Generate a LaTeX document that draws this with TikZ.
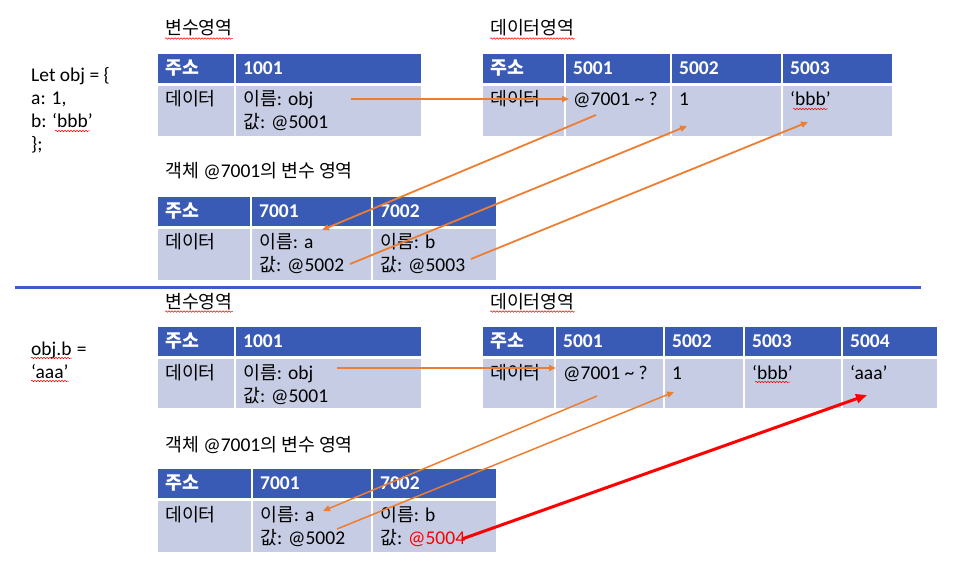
\documentclass[tikz,border=0pt]{standalone}
\usepackage{fontspec}
\setmainfont{Carlito}
\newfontfamily\kr{Noto Sans CJK KR}[Scale=0.94]
\usetikzlibrary{arrows.meta,decorations.pathmorphing,calc}
\definecolor{hdrblue}{HTML}{3A5BB5}
\definecolor{rowblue}{HTML}{C6CCE3}
\definecolor{sepblue}{HTML}{3A5EC4}
\definecolor{arrorange}{HTML}{ED7D31}
\definecolor{arrred}{HTML}{FF0000}
\tikzset{
  hcell/.style={rectangle, anchor=north west, inner sep=0pt, outer sep=0pt, fill=hdrblue, draw=white, line width=2pt},
  dcell/.style={rectangle, anchor=north west, inner sep=0pt, outer sep=0pt, fill=rowblue, draw=white, line width=2pt},
  htext/.style={anchor=base west, inner sep=0pt, text=white, font=\fontsize{19.5}{22}\selectfont\bfseries},
  dtext/.style={anchor=base west, inner sep=0pt, text=black, font=\fontsize{19.5}{22}\selectfont},
  lbl/.style={anchor=base west, inner sep=0pt, text=black, font=\fontsize{19.5}{22}\selectfont},
  ptr/.style={draw=arrorange, line width=1.8pt, -{Triangle[length=7pt,width=6pt]}},
  redptr/.style={draw=arrred, line width=3pt, -{Triangle[length=11pt,width=9pt]}},
  squig/.style={draw=red, line width=0.5pt, decorate, decoration={snake, amplitude=0.8pt, segment length=3pt}},
  sepline/.style={draw=sepblue, line width=3pt},
}
\begin{document}
\begin{tikzpicture}[x=1pt,y=-1pt]
\useasboundingbox (0,0) rectangle (979,569);

% ================= TOP =================
\node[lbl] (vh1) at (165,35) {\kr 변수영역};
\node[lbl] (dh1) at (490,35) {\kr 데이터영역};
\node[lbl] (oh1) at (165,178) {{\kr 객체} @7001{\kr 의 변수 영역}};

\node[dtext] (c1) at (31,82) {Let obj = \{};
\node[dtext] (c2) at (31,105) {a: 1,};
\node[dtext] (c3a) at (31,128) {b:};
\node[dtext] (c3b) at (52,128) {‘bbb’};
\node[dtext] (c4) at (31,151) {\};};

% T1
\node[hcell, minimum width=78pt, minimum height=31pt] (t1h0) at (157,53) {};
\node[hcell, minimum width=187pt, minimum height=31pt] (t1h1) at (235,53) {};
\node[dcell, minimum width=78pt, minimum height=52pt] (t1d0) at (157,85) {};
\node[dcell, minimum width=187pt, minimum height=52pt] (t1d1) at (235,85) {};
\node[htext] (t1h0t) at ([xshift=8pt,yshift=-21.5pt]t1h0.north west) {\kr 주소};
\node[htext] (t1h1t) at ([xshift=8pt,yshift=-21.5pt]t1h1.north west) {1001};
\node[dtext] (t1d0t) at ([xshift=8pt,yshift=-21pt]t1d0.north west) {\kr 데이터};
\node[dtext] (t1d1a) at ([xshift=8pt,yshift=-21pt]t1d1.north west) {{\kr 이름}: obj};
\node[dtext] (t1d1b) at ([xshift=8pt,yshift=-44pt]t1d1.north west) {{\kr 값}: @5001};

% T2
\node[hcell, minimum width=83pt, minimum height=31pt] (t2h0) at (482,53) {};
\node[hcell, minimum width=106pt, minimum height=31pt] (t2h1) at (565,53) {};
\node[hcell, minimum width=111pt, minimum height=31pt] (t2h2) at (671,53) {};
\node[hcell, minimum width=111pt, minimum height=31pt] (t2h3) at (782,53) {};
\node[dcell, minimum width=83pt, minimum height=52pt] (t2d0) at (482,85) {};
\node[dcell, minimum width=106pt, minimum height=52pt] (t2d1) at (565,85) {};
\node[dcell, minimum width=111pt, minimum height=52pt] (t2d2) at (671,85) {};
\node[dcell, minimum width=111pt, minimum height=52pt] (t2d3) at (782,85) {};
\node[htext] (t2h0t) at ([xshift=8pt,yshift=-21.5pt]t2h0.north west) {\kr 주소};
\node[htext] (t2h1t) at ([xshift=8pt,yshift=-21.5pt]t2h1.north west) {5001};
\node[htext] (t2h2t) at ([xshift=8pt,yshift=-21.5pt]t2h2.north west) {5002};
\node[htext] (t2h3t) at ([xshift=8pt,yshift=-21.5pt]t2h3.north west) {5003};
\node[dtext] (t2d0t) at ([xshift=8pt,yshift=-21pt]t2d0.north west) {\kr 데이터};
\node[dtext] (t2d1t) at ([xshift=8pt,yshift=-21pt]t2d1.north west) {@7001 \textasciitilde{} ?};
\node[dtext] (t2d2t) at ([xshift=8pt,yshift=-21pt]t2d2.north west) {1};
\node[dtext] (t2d3t) at ([xshift=8pt,yshift=-21pt]t2d3.north west) {‘bbb’};

% T3
\node[hcell, minimum width=94pt, minimum height=31pt] (t3h0) at (157,196) {};
\node[hcell, minimum width=121pt, minimum height=31pt] (t3h1) at (251,196) {};
\node[hcell, minimum width=125pt, minimum height=31pt] (t3h2) at (372,196) {};
\node[dcell, minimum width=94pt, minimum height=53pt] (t3d0) at (157,228) {};
\node[dcell, minimum width=121pt, minimum height=53pt] (t3d1) at (251,228) {};
\node[dcell, minimum width=125pt, minimum height=53pt] (t3d2) at (372,228) {};
\node[htext] (t3h0t) at ([xshift=8pt,yshift=-21.5pt]t3h0.north west) {\kr 주소};
\node[htext] (t3h1t) at ([xshift=8pt,yshift=-21.5pt]t3h1.north west) {7001};
\node[htext] (t3h2t) at ([xshift=8pt,yshift=-21.5pt]t3h2.north west) {7002};
\node[dtext] (t3d0t) at ([xshift=8pt,yshift=-21pt]t3d0.north west) {\kr 데이터};
\node[dtext] (t3d1a) at ([xshift=8pt,yshift=-21pt]t3d1.north west) {{\kr 이름}: a};
\node[dtext] (t3d1b) at ([xshift=8pt,yshift=-44pt]t3d1.north west) {{\kr 값}: @5002};
\node[dtext] (t3d2a) at ([xshift=8pt,yshift=-21pt]t3d2.north west) {{\kr 이름}: b};
\node[dtext] (t3d2b) at ([xshift=8pt,yshift=-44pt]t3d2.north west) {{\kr 값}: @5003};

% separator
\coordinate (sepL) at (15,287.5);
\coordinate (sepR) at (921,287.5);
\draw[sepline] (sepL) -- (sepR);

% ================= BOTTOM =================
\node[lbl] (vh2) at (165,308) {\kr 변수영역};
\node[lbl] (dh2) at (490,308) {\kr 데이터영역};
\node[lbl] (oh2) at (165,451) {{\kr 객체} @7001{\kr 의 변수 영역}};

\node[dtext] (e1a) at (31,355) {obj.b};
\node[dtext] (e1b) at ([xshift=5pt]e1a.base east) {=};
\node[dtext] (e2) at (31,378) {‘aaa’};

% T4
\node[hcell, minimum width=78pt, minimum height=31pt] (t4h0) at (157,326) {};
\node[hcell, minimum width=187pt, minimum height=31pt] (t4h1) at (235,326) {};
\node[dcell, minimum width=78pt, minimum height=51pt] (t4d0) at (157,358) {};
\node[dcell, minimum width=187pt, minimum height=51pt] (t4d1) at (235,358) {};
\node[htext] (t4h0t) at ([xshift=8pt,yshift=-21pt]t4h0.north west) {\kr 주소};
\node[htext] (t4h1t) at ([xshift=8pt,yshift=-21pt]t4h1.north west) {1001};
\node[dtext] (t4d0t) at ([xshift=8pt,yshift=-21pt]t4d0.north west) {\kr 데이터};
\node[dtext] (t4d1a) at ([xshift=8pt,yshift=-21pt]t4d1.north west) {{\kr 이름}: obj};
\node[dtext] (t4d1b) at ([xshift=8pt,yshift=-44pt]t4d1.north west) {{\kr 값}: @5001};

% T5
\node[hcell, minimum width=73pt, minimum height=31pt] (t5h0) at (482,326) {};
\node[hcell, minimum width=109pt, minimum height=31pt] (t5h1) at (555,326) {};
\node[hcell, minimum width=80pt, minimum height=31pt] (t5h2) at (664,326) {};
\node[hcell, minimum width=98pt, minimum height=31pt] (t5h3) at (744,326) {};
\node[hcell, minimum width=96pt, minimum height=31pt] (t5h4) at (842,326) {};
\node[dcell, minimum width=73pt, minimum height=51pt] (t5d0) at (482,358) {};
\node[dcell, minimum width=109pt, minimum height=51pt] (t5d1) at (555,358) {};
\node[dcell, minimum width=80pt, minimum height=51pt] (t5d2) at (664,358) {};
\node[dcell, minimum width=98pt, minimum height=51pt] (t5d3) at (744,358) {};
\node[dcell, minimum width=96pt, minimum height=51pt] (t5d4) at (842,358) {};
\node[htext] (t5h0t) at ([xshift=8pt,yshift=-21pt]t5h0.north west) {\kr 주소};
\node[htext] (t5h1t) at ([xshift=8pt,yshift=-21pt]t5h1.north west) {5001};
\node[htext] (t5h2t) at ([xshift=8pt,yshift=-21pt]t5h2.north west) {5002};
\node[htext] (t5h3t) at ([xshift=8pt,yshift=-21pt]t5h3.north west) {5003};
\node[htext] (t5h4t) at ([xshift=8pt,yshift=-21pt]t5h4.north west) {5004};
\node[dtext] (t5d0t) at ([xshift=8pt,yshift=-21pt]t5d0.north west) {\kr 데이터};
\node[dtext] (t5d1t) at ([xshift=8pt,yshift=-21pt]t5d1.north west) {@7001 \textasciitilde{} ?};
\node[dtext] (t5d2t) at ([xshift=8pt,yshift=-21pt]t5d2.north west) {1};
\node[dtext] (t5d3t) at ([xshift=8pt,yshift=-21pt]t5d3.north west) {‘bbb’};
\node[dtext] (t5d4t) at ([xshift=8pt,yshift=-21pt]t5d4.north west) {‘aaa’};

% T6
\node[hcell, minimum width=95pt, minimum height=31pt] (t6h0) at (157,468) {};
\node[hcell, minimum width=120pt, minimum height=31pt] (t6h1) at (252,468) {};
\node[hcell, minimum width=125pt, minimum height=31pt] (t6h2) at (372,468) {};
\node[dcell, minimum width=95pt, minimum height=53pt] (t6d0) at (157,500) {};
\node[dcell, minimum width=120pt, minimum height=53pt] (t6d1) at (252,500) {};
\node[dcell, minimum width=125pt, minimum height=53pt] (t6d2) at (372,500) {};
\node[htext] (t6h0t) at ([xshift=8pt,yshift=-21.5pt]t6h0.north west) {\kr 주소};
\node[htext] (t6h1t) at ([xshift=8pt,yshift=-21.5pt]t6h1.north west) {7001};
\node[htext] (t6h2t) at ([xshift=8pt,yshift=-21.5pt]t6h2.north west) {7002};
\node[dtext] (t6d0t) at ([xshift=8pt,yshift=-21pt]t6d0.north west) {\kr 데이터};
\node[dtext] (t6d1a) at ([xshift=8pt,yshift=-21pt]t6d1.north west) {{\kr 이름}: a};
\node[dtext] (t6d1b) at ([xshift=8pt,yshift=-44pt]t6d1.north west) {{\kr 값}: @5002};
\node[dtext] (t6d2a) at ([xshift=8pt,yshift=-21pt]t6d2.north west) {{\kr 이름}: b};
\node[dtext] (t6d2b) at ([xshift=8pt,yshift=-44pt]t6d2.north west) {{\kr 값}: \textcolor{red}{@5004}};

% spell-check squiggles
\draw[squig] ([yshift=-3.5pt]vh1.base west) -- ([yshift=-3.5pt]vh1.base east);
\draw[squig] ([yshift=-3.5pt]dh1.base west) -- ([yshift=-3.5pt]dh1.base east);
\draw[squig] ([xshift=3pt,yshift=-3pt]c3b.base west) -- ([xshift=-3pt,yshift=-3pt]c3b.base east);
\draw[squig] ([xshift=3pt,yshift=-3pt]t2d3t.base west) -- ([xshift=-3pt,yshift=-3pt]t2d3t.base east);
\draw[squig] ([yshift=-3.5pt]vh2.base west) -- ([yshift=-3.5pt]vh2.base east);
\draw[squig] ([yshift=-3.5pt]dh2.base west) -- ([yshift=-3.5pt]dh2.base east);
\draw[squig] ([yshift=-3pt]e1a.base west) -- ([yshift=-3pt]e1a.base east);
\draw[squig] ([yshift=-3pt]e2.base west) -- ([yshift=-3pt]e2.base east);
\draw[squig] ([xshift=3pt,yshift=-3pt]t5d3t.base west) -- ([xshift=-3pt,yshift=-3pt]t5d3t.base east);

% ================= ARROWS =================
\coordinate (a1s) at (351,99);
\coordinate (a1e) at (569,99);
\coordinate (a2s) at (596,115);
\coordinate (a2e) at (322,230);
\coordinate (a3s) at (350,264);
\coordinate (a3e) at (687,126);
\coordinate (a4s) at (471,259);
\coordinate (a4e) at (808,122);
\draw[ptr] (a1s) -- (a1e);
\draw[ptr] (a2s) -- (a2e);
\draw[ptr] (a3s) -- (a3e);
\draw[ptr] (a4s) -- (a4e);

\coordinate (b1s) at (337,368);
\coordinate (b1e) at (556,368);
\coordinate (b2s) at (597,396);
\coordinate (b2e) at (323,511);
\coordinate (b3s) at (337,529);
\coordinate (b3e) at (674,392);
\coordinate (b4s) at (462,539);
\coordinate (b4e) at (867,395);
\draw[ptr] (b1s) -- (b1e);
\draw[ptr, line width=1.5pt] (b2s) -- (b2e);
\draw[ptr, line width=1.5pt] (b3s) -- (b3e);
\draw[redptr] (b4s) -- (b4e);
\end{tikzpicture}
\end{document}
